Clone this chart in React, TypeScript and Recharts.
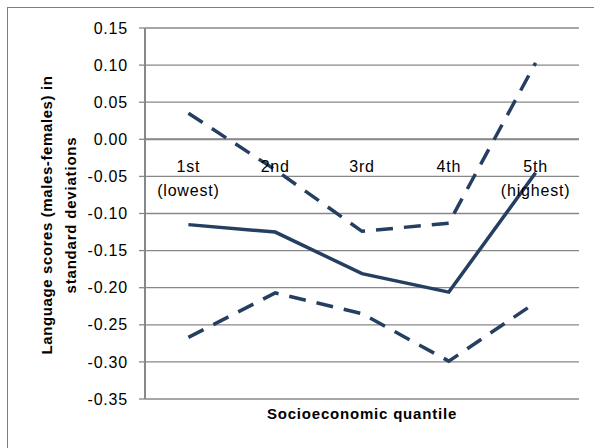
import React from 'react';
import {
  LineChart,
  Line,
  XAxis,
  YAxis,
  CartesianGrid,
  ReferenceLine,
  ReferenceDot,
} from 'recharts';

const categories = ['1st', '2nd', '3rd', '4th', '5th'];
const categorySubLabels = ['(lowest)', '', '', '', '(highest)'];
const meanValues = [-0.115, -0.125, -0.181, -0.206, -0.045];
const upperValues = [0.035, -0.041, -0.124, -0.113, 0.103];
const lowerValues = [-0.267, -0.207, -0.235, -0.299, -0.22];
const yTicks = [-0.35, -0.3, -0.25, -0.2, -0.15, -0.1, -0.05, 0, 0.05, 0.1, 0.15];

const data = categories.map((c, i) => ({
  cat: c,
  mean: meanValues[i],
  upper: upperValues[i],
  lower: lowerValues[i],
}));

const LINE = '#243F60';
const GRID = '#888888';
const FONT = '"Liberation Sans", Arial, sans-serif';

const makeCatLabel = (top: string, bottom: string) => (props: any) => {
  const vb = props.viewBox || {};
  const cx = (vb.x ?? 0) + (vb.width ?? 0) / 2;
  const cy = (vb.y ?? 0) + (vb.height ?? 0) / 2;
  return (
    <g>
      <text x={cx} y={cy + 33} textAnchor="middle" fontSize={16} fill="#000" fontFamily={FONT} letterSpacing={0.8}>
        {top}
      </text>
      {bottom ? (
        <text x={cx} y={cy + 57} textAnchor="middle" fontSize={16} fill="#000" fontFamily={FONT} letterSpacing={0.8}>
          {bottom}
        </text>
      ) : null}
    </g>
  );
};

const YLabel = () => {
  const cy = 207;
  return (
    <g>
      <text
        x={38}
        y={cy}
        transform={`rotate(-90, 38, ${cy})`}
        textAnchor="middle"
        dominantBaseline="central"
        fontSize={15}
        fontWeight="bold"
        fontFamily={FONT}
        letterSpacing={0.6}
        fill="#000"
      >
        Language scores (males-females) in
      </text>
      <text
        x={62}
        y={cy}
        transform={`rotate(-90, 62, ${cy})`}
        textAnchor="middle"
        dominantBaseline="central"
        fontSize={15}
        fontWeight="bold"
        fontFamily={FONT}
        letterSpacing={0.8}
        fill="#000"
      >
        standard deviations
      </text>
    </g>
  );
};

const XLabel = (props: any) => {
  const vb = props.viewBox || {};
  const cx = (vb.x ?? 0) + (vb.width ?? 0) / 2;
  return (
    <text
      x={cx}
      y={(vb.y ?? 0) + 20}
      textAnchor="middle"
      fontSize={15}
      fontWeight="bold"
      fontFamily={FONT}
      letterSpacing={0.8}
      fill="#000"
    >
      Socioeconomic quantile
    </text>
  );
};

export default function App() {
  return (
    <div
      style={{
        position: 'absolute',
        left: 7,
        top: 7,
        width: 600,
        height: 450,
        borderLeft: '1px solid #7f7f7f',
        borderTop: '1px solid #7f7f7f',
        background: '#fff',
        boxSizing: 'border-box',
      }}
    >
      <LineChart
        width={586}
        height={441}
        data={data}
        margin={{ top: 20, right: 15, bottom: 20, left: 0 }}
      >
        <CartesianGrid vertical={false} stroke={GRID} strokeWidth={1.3} />
        <XAxis
          dataKey="cat"
          scale="band"
          axisLine={false}
          tickLine={false}
          tick={false}
          height={30}
          label={<XLabel />}
        />
        <YAxis
          type="number"
          domain={[-0.35, 0.15]}
          ticks={yTicks}
          width={137}
          interval={0}
          axisLine={{ stroke: GRID, strokeWidth: 2 }}
          tickLine={{ stroke: GRID, strokeWidth: 1.3 }}
          tickSize={6}
          tickMargin={11}
          tick={{ fontSize: 16, fill: '#000', fontFamily: FONT, letterSpacing: 0.8 } as any}
          tickFormatter={(v: number) => v.toFixed(2)}
          label={<YLabel />}
        />
        <ReferenceLine y={0} stroke={GRID} strokeWidth={2} />
        {categories.map((c, i) => (
          <ReferenceDot
            key={c}
            x={c}
            y={0}
            r={1}
            fill="none"
            stroke="none"
            label={makeCatLabel(c, categorySubLabels[i])}
          />
        ))}
        <Line
          dataKey="upper"
          stroke={LINE}
          strokeWidth={3.5}
          strokeDasharray="17 11"
          dot={false}
          activeDot={false}
          isAnimationActive={false}
        />
        <Line
          dataKey="lower"
          stroke={LINE}
          strokeWidth={3.5}
          strokeDasharray="17 11"
          dot={false}
          activeDot={false}
          isAnimationActive={false}
        />
        <Line
          dataKey="mean"
          stroke={LINE}
          strokeWidth={3.5}
          dot={false}
          activeDot={false}
          isAnimationActive={false}
        />
      </LineChart>
    </div>
  );
}
